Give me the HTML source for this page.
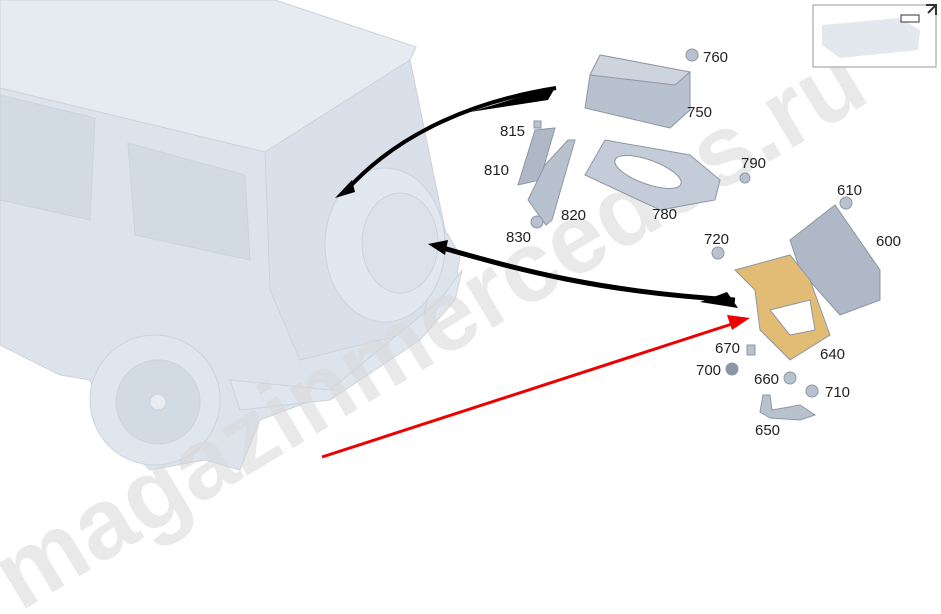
<!DOCTYPE html>
<html><head><meta charset="utf-8"><style>
html,body{margin:0;padding:0;background:#fff;width:941px;height:614px;overflow:hidden}
svg{display:block}
text{font-family:"Liberation Sans",Arial,sans-serif}
</style></head><body>
<svg width="941" height="614" viewBox="0 0 941 614" xmlns="http://www.w3.org/2000/svg">
<g stroke="#cbd3de" stroke-width="1">
<polygon points="0,88 265,152 410,60 445,230 460,255 455,290 420,330 340,390 260,420 240,470 205,460 150,470 110,430 90,380 60,375 0,345" fill="#dce3eb"/>
<polygon points="0,0 275,0 416,47 410,60 265,152 0,88" fill="#e6ebf1"/>
<polygon points="128,143 245,175 250,260 135,235" fill="#d2dae4"/>
<polygon points="0,95 95,118 90,220 0,200" fill="#d2dae4"/>
<polygon points="265,152 410,60 445,230 420,330 300,360 270,290" fill="#d9e0e9"/>
<polygon points="230,380 330,390 440,300 462,270 455,300 420,340 330,400 240,410" fill="#e0e6ed"/>
<ellipse cx="385" cy="245" rx="60" ry="77" fill="#e2e8ef"/>
<ellipse cx="400" cy="243" rx="38" ry="50" fill="#dbe2ea"/>
<circle cx="155" cy="400" r="65" fill="#e0e6ed"/>
<circle cx="158" cy="402" r="42" fill="#d2dae4"/>
<circle cx="158" cy="402" r="8" fill="#e8ecf0"/>
</g>
<text x="0" y="0" transform="translate(20,612) rotate(-31)" font-size="100" font-weight="bold" fill="#d8d8d8" opacity="0.55">magazinmercedes.ru</text>
<path d="M556,88 C480,100 400,130 345,192" fill="none" stroke="#000" stroke-width="4"/>
<path d="M556,86 L548,100 L470,112 Z" fill="#000"/>
<polygon points="335,198 352,180 355,192" fill="#000"/>
<path d="M443,248 C520,270 600,292 735,300" fill="none" stroke="#000" stroke-width="5"/>
<polygon points="727,292 738,308 700,302" fill="#000"/>
<polygon points="428,244 448,240 445,255" fill="#000"/>
<line x1="322" y1="457" x2="735" y2="323" stroke="#e00" stroke-width="3"/>
<polygon points="750,318 727,315 732,330" fill="#e00"/>
<g stroke="#8c97a6" stroke-width="1">
<polygon points="600,55 690,72 690,110 670,128 585,108 590,75" fill="#b8c2cf"/>
<polygon points="600,55 690,72 675,85 590,75" fill="#cdd4de"/>
<polygon points="605,140 690,155 720,180 715,200 660,210 585,175" fill="#c3ccd8"/>
<ellipse cx="648" cy="172" rx="35" ry="12" fill="#fff" transform="rotate(20 648 172)"/>
<polygon points="535,130 555,128 540,180 518,185" fill="#aeb8c6"/>
<polygon points="568,140 575,140 552,220 546,225 528,200 545,165" fill="#b8c2cf"/>
<polygon points="790,240 835,205 880,270 880,300 840,315 800,270" fill="#aeb8c6"/>
<polygon points="735,270 790,255 810,280 830,335 790,360 760,330 755,290" fill="#e2bb74"/>
<polygon points="770,310 810,300 815,330 790,335" fill="#fff"/>
<polygon points="763,395 770,395 772,410 800,405 815,415 800,420 770,418 760,412" fill="#b8c2cf"/>
<circle cx="692" cy="55" r="6" fill="#b8c2cf"/>
<circle cx="537" cy="222" r="6" fill="#b8c2cf"/>
<circle cx="745" cy="178" r="5" fill="#b8c2cf"/>
<circle cx="846" cy="203" r="6" fill="#b8c2cf"/>
<circle cx="718" cy="253" r="6" fill="#b8c2cf"/>
<circle cx="732" cy="369" r="6" fill="#8c97a6"/>
<rect x="747" y="345" width="8" height="10" fill="#b8c2cf"/>
<circle cx="790" cy="378" r="6" fill="#b8c2cf"/>
<circle cx="812" cy="391" r="6" fill="#b8c2cf"/>
<rect x="534" y="121" width="7" height="7" fill="#b8c2cf"/>
</g>
<g font-size="15" fill="#222">
<text x="703" y="62">760</text>
<text x="687" y="117">750</text>
<text x="500" y="136">815</text>
<text x="484" y="175">810</text>
<text x="741" y="168">790</text>
<text x="561" y="220">820</text>
<text x="652" y="219">780</text>
<text x="506" y="242">830</text>
<text x="837" y="195">610</text>
<text x="704" y="244">720</text>
<text x="876" y="246">600</text>
<text x="715" y="353">670</text>
<text x="820" y="359">640</text>
<text x="696" y="375">700</text>
<text x="754" y="384">660</text>
<text x="825" y="397">710</text>
<text x="755" y="435">650</text>
</g>
<rect x="813" y="5" width="123" height="62" fill="#fff" stroke="#999"/>
<path d="M822,25 L900,18 L920,30 L918,50 L840,58 L822,45 Z" fill="#e3e8ee"/>
<rect x="901" y="15" width="18" height="7" fill="#fff" stroke="#333"/>
<path d="M926,5 h10 v10 M928,13 l7,-7" stroke="#333" stroke-width="2" fill="none"/>
</svg>
</body></html>
